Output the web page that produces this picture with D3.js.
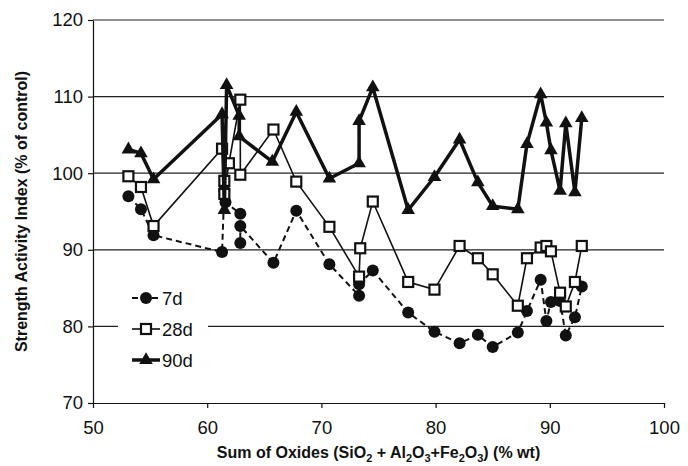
<!DOCTYPE html>
<meta charset="utf-8">
<style>
    body {
        margin: 0;
        background: #fff;
    }

    text {
        font-family: "Liberation Sans", Arial, sans-serif;
        fill: #111;
    }

    .axis text {
        font-size: 18.5px;
    }

    .axis path,
    .axis line {
        stroke: #111;
        stroke-width: 1.2;
    }

    .grid line {
        stroke: #222;
        stroke-width: 1.2;
    }

    .title {
        font-size: 16px;
        font-weight: bold;
    }

    .legend text {
        font-size: 18.5px;
    }
</style>

<body>
    <script src="https://d3js.org/d3.v7.min.js"></script>
    <script>
        // Data: sum of oxides (% wt) vs strength activity index (% of control)
        var oxides7 = [53.1, 54.2, 55.3, 61.3, 61.5, 61.6, 62.9, 62.9, 62.9, 65.8, 67.8, 70.7, 73.3, 73.3, 74.5,
            77.6, 79.9, 82.1, 83.7, 85.0, 87.2, 88.0, 89.2, 89.7, 90.1, 90.9, 91.4, 92.2, 92.8];
        var sai7 = [97.0, 95.3, 91.9, 89.7, 97.8, 96.2, 94.7, 90.9, 93.1, 88.3, 95.1, 88.1, 84.0, 85.5, 87.3,
            81.8, 79.3, 77.8, 78.9, 77.3, 79.2, 82.0, 86.1, 80.7, 83.2, 83.3, 78.8, 81.2, 85.2];

        var oxides28 = [53.1, 54.2, 55.3, 61.3, 61.5, 61.5, 61.9, 62.9, 62.9, 65.8, 67.8, 70.7, 73.3, 73.4, 74.5,
            77.6, 79.9, 82.1, 83.7, 85.0, 87.2, 88.0, 89.2, 89.7, 90.1, 90.9, 91.4, 92.2, 92.8];
        var sai28 = [99.6, 98.2, 93.1, 103.2, 99.0, 97.3, 101.3, 109.6, 99.8, 105.7, 98.9, 93.0, 86.5, 90.2, 96.3,
            85.8, 84.8, 90.5, 88.9, 86.8, 82.7, 88.9, 90.3, 90.5, 89.8, 84.4, 82.6, 85.8, 90.5];

        var oxides90 = [53.1, 54.2, 55.3, 61.3, 61.5, 61.7, 62.8, 62.8, 65.7, 67.8, 70.7, 73.3, 73.3, 74.5,
            77.6, 79.9, 82.1, 83.7, 85.0, 87.2, 88.0, 89.2, 89.7, 90.1, 90.9, 91.4, 92.2, 92.8];
        var sai90 = [103.1, 102.6, 99.2, 107.7, 95.2, 111.5, 107.5, 104.8, 101.5, 108.0, 99.3, 101.3, 106.8, 111.2,
            95.2, 99.5, 104.4, 98.8, 95.7, 95.3, 103.8, 110.3, 106.6, 103.0, 97.7, 106.5, 97.5, 107.2];

        var seriesNames = ["7d", "28d", "90d"];
        var xTicks = [50, 60, 70, 80, 90, 100];
        var yTicks = [70, 80, 90, 100, 110, 120];

        var margin = {
                top: 20,
                right: 24,
                bottom: 63,
                left: 93
            },
            width = 688 - margin.left - margin.right,
            height = 466 - margin.top - margin.bottom;

        var svg = d3.select("body").append("svg")
            .attr("width", width + margin.left + margin.right)
            .attr("height", height + margin.top + margin.bottom)
            .append("g")
            .attr("transform", "translate(" + margin.left + "," + margin.top + ")");

        var x = d3.scaleLinear().domain([50, 100]).range([0, width]);
        var y = d3.scaleLinear().domain([70, 120]).range([height, 0]);

        // horizontal gridlines
        svg.append("g")
            .attr("class", "grid")
            .selectAll("line")
            .data(yTicks.filter(d => d > 70))
            .enter().append("line")
            .attr("x1", 0)
            .attr("x2", width)
            .attr("y1", d => y(d))
            .attr("y2", d => y(d));

        // axes
        svg.append("g")
            .attr("class", "axis")
            .attr("transform", "translate(0," + height + ")")
            .call(d3.axisBottom(x).tickValues(xTicks).tickSize(5).tickSizeOuter(0).tickPadding(13));

        svg.append("g")
            .attr("class", "axis")
            .call(d3.axisLeft(y).tickValues(yTicks).tickSize(5).tickSizeOuter(0).tickPadding(5));

        // axis titles
        svg.append("text")
            .attr("class", "title")
            .attr("transform", "translate(" + (21 - margin.left) + "," + (height / 2) + ") rotate(-90)")
            .attr("text-anchor", "middle")
            .attr("dy", "0.35em")
            .text("Strength Activity Index (% of control)");

        var xt = svg.append("text")
            .attr("class", "title")
            .attr("x", width / 2)
            .attr("y", 458 - margin.top)
            .attr("text-anchor", "middle");
        var parts = [
            ["Sum of Oxides (SiO", 0], ["2", 1], [" + Al", 0], ["2", 1], ["O", 0], ["3", 1],
            ["+Fe", 0], ["2", 1], ["O", 0], ["3", 1], [") (% wt)", 0]
        ];
        var prevSub = 0;
        parts.forEach(function (p) {
            var t = xt.append("tspan").text(p[0]);
            if (p[1]) t.style("font-size", "11px");
            var shift = (p[1] ? 4 : 0) - (prevSub ? 4 : 0);
            if (shift) t.attr("dy", shift);
            prevSub = p[1];
        });

        var line = d3.line()
            .x(d => x(d[0]))
            .y(d => y(d[1]));

        var d7 = d3.zip(oxides7, sai7);
        var d28 = d3.zip(oxides28, sai28);
        var d90 = d3.zip(oxides90, sai90);

        // 7d: dashed line, filled circles
        svg.append("path")
            .datum(d7)
            .attr("d", line)
            .attr("fill", "none")
            .attr("stroke", "#111")
            .attr("stroke-width", 2)
            .attr("stroke-dasharray", "6,4");
        svg.append("g").selectAll("circle")
            .data(d7)
            .enter().append("circle")
            .attr("cx", d => x(d[0]))
            .attr("cy", d => y(d[1]))
            .attr("r", 6)
            .attr("fill", "#111");

        // 28d: thin line, hollow squares
        svg.append("path")
            .datum(d28)
            .attr("d", line)
            .attr("fill", "none")
            .attr("stroke", "#111")
            .attr("stroke-width", 1.6);
        svg.append("g").selectAll("rect")
            .data(d28)
            .enter().append("rect")
            .attr("x", d => x(d[0]) - 5)
            .attr("y", d => y(d[1]) - 5)
            .attr("width", 10)
            .attr("height", 10)
            .attr("fill", "#fff")
            .attr("stroke", "#111")
            .attr("stroke-width", 2.2);

        // 90d: thick line, filled triangles
        svg.append("path")
            .datum(d90)
            .attr("d", line)
            .attr("fill", "none")
            .attr("stroke", "#111")
            .attr("stroke-width", 3.5)
            .attr("stroke-linejoin", "round");
        var tri = d3.symbol(d3.symbolTriangle, 80);
        svg.append("g").selectAll("path")
            .data(d90)
            .enter().append("path")
            .attr("d", tri)
            .attr("transform", d => "translate(" + x(d[0]) + "," + y(d[1]) + ")")
            .attr("fill", "#111");

        // legend
        var legend = svg.append("g")
            .attr("class", "legend")
            .attr("transform", "translate(" + (118 - margin.left) + "," + (283 - margin.top) + ")");
        legend.append("rect")
            .attr("width", 90)
            .attr("height", 94)
            .attr("fill", "#fff");
        var rows = legend.selectAll("g.row")
            .data(seriesNames)
            .enter().append("g")
            .attr("class", "row")
            .attr("transform", (d, i) => "translate(0," + (15 + i * 31) + ")");
        rows.append("line")
            .attr("x1", 14)
            .attr("x2", 42)
            .attr("stroke", "#111")
            .attr("stroke-width", (d, i) => [2, 1.6, 3.5][i])
            .attr("stroke-dasharray", (d, i) => i === 0 ? "6,4" : null);
        rows.filter((d, i) => i === 0).append("circle")
            .attr("cx", 28).attr("r", 6).attr("fill", "#111");
        rows.filter((d, i) => i === 1).append("rect")
            .attr("x", 23).attr("y", -5).attr("width", 10).attr("height", 10)
            .attr("fill", "#fff").attr("stroke", "#111").attr("stroke-width", 2.2);
        rows.filter((d, i) => i === 2).append("path")
            .attr("d", tri).attr("transform", "translate(28,0)").attr("fill", "#111");
        rows.append("text")
            .attr("x", 44)
            .attr("dy", "0.36em")
            .text(d => d);
    </script>
</body>
